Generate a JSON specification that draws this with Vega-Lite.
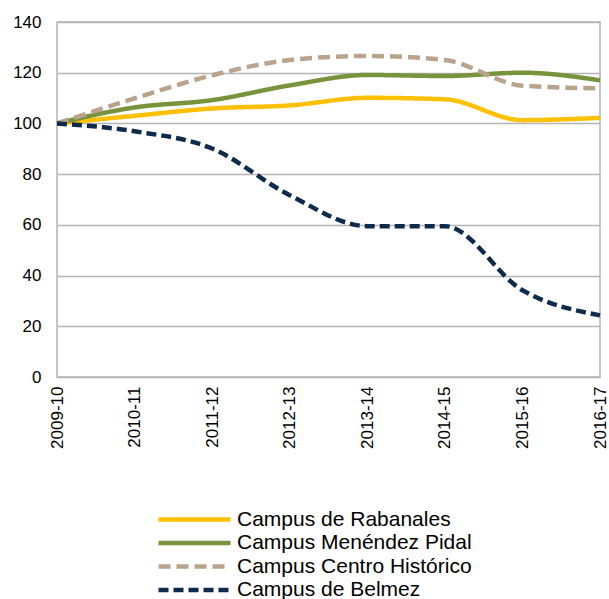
{
  "$schema": "https://vega.github.io/schema/vega-lite/v6.json",
  "width": 543,
  "height": 355,
  "autosize": "none",
  "padding": {"left": 57, "top": 22, "right": 9, "bottom": 222},
  "background": "white",
  "config": {
    "font": "Liberation Sans",
    "view": {"stroke": "#B4B4B4", "strokeWidth": 1.5}
  },
  "data": {
    "values": [
      {"year": "2009-10", "campus": "Campus de Rabanales", "value": 100},
      {"year": "2010-11", "campus": "Campus de Rabanales", "value": 103},
      {"year": "2011-12", "campus": "Campus de Rabanales", "value": 105.9},
      {"year": "2012-13", "campus": "Campus de Rabanales", "value": 107.1},
      {"year": "2013-14", "campus": "Campus de Rabanales", "value": 110.1},
      {"year": "2014-15", "campus": "Campus de Rabanales", "value": 109.5},
      {"year": "2015-16", "campus": "Campus de Rabanales", "value": 101.3},
      {"year": "2016-17", "campus": "Campus de Rabanales", "value": 102.2},
      {"year": "2009-10", "campus": "Campus Menéndez Pidal", "value": 100},
      {"year": "2010-11", "campus": "Campus Menéndez Pidal", "value": 106.3},
      {"year": "2011-12", "campus": "Campus Menéndez Pidal", "value": 109.2},
      {"year": "2012-13", "campus": "Campus Menéndez Pidal", "value": 115},
      {"year": "2013-14", "campus": "Campus Menéndez Pidal", "value": 119.1},
      {"year": "2014-15", "campus": "Campus Menéndez Pidal", "value": 118.7},
      {"year": "2015-16", "campus": "Campus Menéndez Pidal", "value": 120},
      {"year": "2016-17", "campus": "Campus Menéndez Pidal", "value": 117},
      {"year": "2009-10", "campus": "Campus Centro Histórico", "value": 100},
      {"year": "2010-11", "campus": "Campus Centro Histórico", "value": 109.9},
      {"year": "2011-12", "campus": "Campus Centro Histórico", "value": 119},
      {"year": "2012-13", "campus": "Campus Centro Histórico", "value": 125},
      {"year": "2013-14", "campus": "Campus Centro Histórico", "value": 126.6},
      {"year": "2014-15", "campus": "Campus Centro Histórico", "value": 125},
      {"year": "2015-16", "campus": "Campus Centro Histórico", "value": 114.9},
      {"year": "2016-17", "campus": "Campus Centro Histórico", "value": 113.8},
      {"year": "2009-10", "campus": "Campus de Belmez", "value": 100},
      {"year": "2010-11", "campus": "Campus de Belmez", "value": 96.9},
      {"year": "2011-12", "campus": "Campus de Belmez", "value": 90.1},
      {"year": "2012-13", "campus": "Campus de Belmez", "value": 71.7},
      {"year": "2013-14", "campus": "Campus de Belmez", "value": 59.5},
      {"year": "2014-15", "campus": "Campus de Belmez", "value": 59.5},
      {"year": "2015-16", "campus": "Campus de Belmez", "value": 34.2},
      {"year": "2016-17", "campus": "Campus de Belmez", "value": 24.3}
    ]
  },
  "mark": {"type": "line", "interpolate": "monotone", "strokeCap": "butt"},
  "encoding": {
    "x": {
      "field": "year",
      "type": "ordinal",
      "scale": {"type": "point", "padding": 0},
      "axis": {
        "title": null,
        "labelAngle": -90,
        "labelFontSize": 17,
        "labelColor": "#000000",
        "labelPadding": 9,
        "ticks": false,
        "domain": false,
        "grid": false
      }
    },
    "y": {
      "field": "value",
      "type": "quantitative",
      "scale": {"domain": [0, 140], "nice": false},
      "axis": {
        "title": null,
        "values": [0, 20, 40, 60, 80, 100, 120, 140],
        "labelFontSize": 17,
        "labelColor": "#000000",
        "labelPadding": 16,
        "ticks": false,
        "domain": false,
        "grid": true,
        "gridColor": "#B4B4B4",
        "gridWidth": 1.5
      }
    },
    "color": {
      "field": "campus",
      "type": "nominal",
      "title": null,
      "scale": {
        "domain": ["Campus de Rabanales", "Campus Menéndez Pidal", "Campus Centro Histórico", "Campus de Belmez"],
        "range": ["#FFC000", "#77933C", "#B8A48E", "#0F2A4A"]
      },
      "legend": {
        "orient": "none",
        "legendX": 127,
        "legendY": 487,
        "direction": "vertical",
        "symbolType": "M-4.5,0H4.5",
        "symbolSize": 256,
        "symbolStrokeWidth": 4.5,
        "labelFontSize": 21,
        "labelColor": "#000000",
        "labelOffset": 32,
        "rowPadding": 1.5,
        "labelLimit": 400
      }
    },
    "strokeDash": {
      "field": "campus",
      "type": "nominal",
      "title": null,
      "scale": {
        "domain": ["Campus de Rabanales", "Campus Menéndez Pidal", "Campus Centro Histórico", "Campus de Belmez"],
        "range": [[1, 0], [1, 0], [12, 6], [10, 5]]
      }
    },
    "strokeWidth": {
      "field": "campus",
      "type": "nominal",
      "title": null,
      "scale": {
        "domain": ["Campus de Rabanales", "Campus Menéndez Pidal", "Campus Centro Histórico", "Campus de Belmez"],
        "range": [4.5, 4.5, 3.5, 3.5]
      }
    }
  }
}
